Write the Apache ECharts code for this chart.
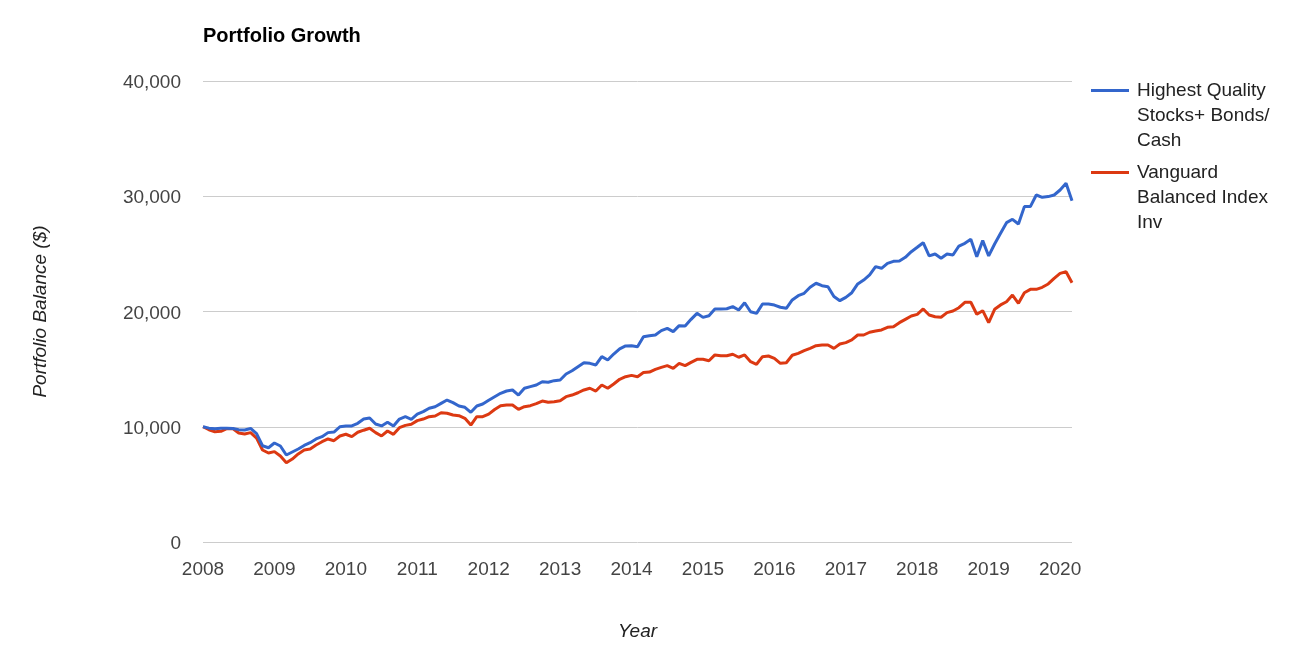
<!DOCTYPE html>
<html>
<head>
<meta charset="utf-8">
<script src="https://cdn.jsdelivr.net/npm/echarts@6/dist/echarts.min.js"></script>
<style>
html,body{margin:0;padding:0;background:#fff;}
#chart{width:1289px;height:652px;}
</style>
</head>
<body>
<div id="chart"></div>
<script>
// ---- data (monthly, Jan 2008 – Mar 2020) ----
const startYear = 2008;
const yearTicks = [2008, 2009, 2010, 2011, 2012, 2013, 2014, 2015, 2016, 2017, 2018, 2019, 2020];
const seriesNames = ['Highest Quality Stocks+ Bonds/ Cash', 'Vanguard Balanced Index Inv'];
const legendLines = [['Highest Quality', 'Stocks+ Bonds/', 'Cash'], ['Vanguard', 'Balanced Index', 'Inv']];

const highestQuality = [
  10000, 9880, 9830, 9880, 9880, 9850, 9750, 9720, 9850, 9400, 8350, 8180,
  8590, 8330, 7550, 7810, 8070, 8380, 8620, 8940, 9140, 9490, 9540, 10000,
  10070, 10070, 10300, 10670, 10760, 10240, 10070, 10390, 10070, 10670, 10870, 10650,
  11100, 11310, 11600, 11740, 12030, 12320, 12090, 11800, 11690, 11250, 11800, 11970,
  12300, 12600, 12900, 13100, 13190, 12750, 13340, 13480, 13620, 13910, 13860, 14000,
  14060, 14580, 14860, 15210, 15560, 15500, 15360, 16080, 15790, 16310, 16750, 17010,
  17030, 16950, 17810, 17900, 17960, 18340, 18540, 18250, 18770, 18740, 19320, 19840,
  19490, 19630, 20220, 20220, 20240, 20420, 20130, 20760, 19980, 19840, 20650, 20650,
  20560, 20370, 20280, 21000, 21370, 21580, 22100, 22450, 22240, 22150, 21300, 20940,
  21230, 21630, 22390, 22730, 23170, 23890, 23750, 24180, 24350, 24380, 24700, 25190,
  25570, 25970, 24820, 24990, 24620, 24990, 24900, 25680, 25920, 26270, 24760, 26150,
  24820, 25860, 26790, 27710, 28000, 27590, 29100, 29100, 30110, 29910, 29970, 30110,
  30540, 31120, 29610
];
const vanguardBalanced = [
  10000, 9740, 9570, 9600, 9830, 9850, 9460, 9370, 9490, 9020, 7980, 7720,
  7840, 7460, 6880, 7200, 7640, 7980, 8070, 8420, 8700, 8940, 8790, 9200,
  9350, 9140, 9520, 9700, 9870, 9490, 9200, 9630, 9340, 9920, 10120, 10210,
  10530, 10670, 10870, 10930, 11220, 11170, 11020, 10960, 10730, 10150, 10870, 10870,
  11100, 11500, 11830, 11890, 11890, 11510, 11740, 11830, 12000, 12230, 12120, 12170,
  12260, 12610, 12750, 12950, 13190, 13340, 13100, 13620, 13340, 13710, 14120, 14340,
  14460, 14340, 14700, 14750, 14980, 15150, 15300, 15070, 15500, 15300, 15590, 15850,
  15850, 15730, 16230, 16160, 16160, 16290, 16030, 16230, 15650, 15420, 16080, 16140,
  15940, 15500, 15550, 16200, 16370, 16600, 16800, 17030, 17090, 17090, 16800, 17180,
  17300, 17530, 17960, 17960, 18200, 18300, 18400, 18630, 18680, 19030, 19320, 19610,
  19750, 20220, 19700, 19550, 19500, 19900, 20040, 20330, 20800, 20800, 19760, 20070,
  19030, 20190, 20570, 20850, 21430, 20710, 21630, 21920, 21920, 22100, 22390, 22880,
  23310, 23450, 22500
];

// ---- build ----
const toPoints = arr => arr.map((v, i) => [startYear + i / 12, v]);
const xMax = startYear + (highestQuality.length - 1) / 12;
const FONT = '"Liberation Sans", Arial, sans-serif';

const chart = echarts.init(document.getElementById('chart'), null, {renderer: 'canvas'});

function legendFor(idx, top) {
  return {
    data: [seriesNames[idx]],
    orient: 'vertical',
    left: 1091,
    top: top,
    padding: 0,
    icon: 'rect',
    itemWidth: 38,
    itemHeight: 3,
    itemGap: 0,
    selectedMode: false,
    formatter: () => '\n\n' + legendLines[idx].join('\n'),
    textStyle: {fontFamily: FONT, fontSize: 19, color: '#222', lineHeight: 25, padding: [0, 0, 0, 3]}
  };
}

chart.setOption({
  animation: false,
  color: ['#3366cc', '#dc3912'],
  title: {
    text: 'Portfolio Growth',
    left: 198,
    top: 21,
    textStyle: {fontFamily: FONT, fontSize: 20, fontWeight: 'bold', color: '#000'}
  },
  legend: [legendFor(0, 28), legendFor(1, 110)],
  grid: {left: 203, right: 217, top: 81, bottom: 110, containLabel: false},
  xAxis: {
    type: 'value',
    min: startYear,
    max: xMax,
    interval: 1,
    name: 'Year',
    nameLocation: 'middle',
    nameGap: 80,
    nameTextStyle: {fontFamily: FONT, fontSize: 19, fontStyle: 'italic', color: '#222'},
    axisLine: {show: false},
    axisTick: {show: false},
    splitLine: {show: false},
    axisLabel: {
      fontFamily: FONT, fontSize: 19, color: '#444', margin: 18,
      showMaxLabel: false,
      formatter: v => (yearTicks.indexOf(Math.round(v)) >= 0 && Math.abs(v - Math.round(v)) < 1e-6) ? String(Math.round(v)) : ''
    }
  },
  yAxis: {
    type: 'value',
    min: 0,
    max: 40000,
    interval: 10000,
    name: 'Portfolio Balance ($)',
    nameLocation: 'middle',
    nameGap: 153,
    nameRotate: 90,
    nameTextStyle: {fontFamily: FONT, fontSize: 19, fontStyle: 'italic', color: '#222'},
    axisLine: {show: false},
    axisTick: {show: false},
    splitLine: {lineStyle: {color: '#cccccc', width: 1}},
    axisLabel: {
      fontFamily: FONT, fontSize: 19, color: '#444', margin: 22,
      verticalAlign: 'top', lineHeight: 4,
      formatter: v => v.toLocaleString('en-US')
    }
  },
  series: [
    {name: seriesNames[0], type: 'line', data: toPoints(highestQuality), showSymbol: false, symbol: 'none',
     lineStyle: {width: 3}, z: 3},
    {name: seriesNames[1], type: 'line', data: toPoints(vanguardBalanced), showSymbol: false, symbol: 'none',
     lineStyle: {width: 3}, z: 2}
  ]
});
</script>
</body>
</html>
